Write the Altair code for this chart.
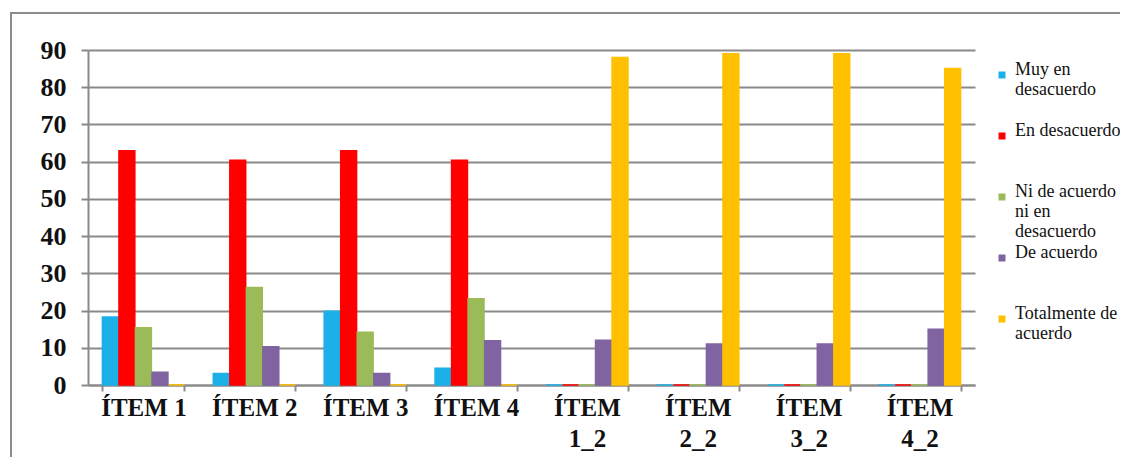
import altair as alt
import pandas as pd

items = ["ÍTEM 1", "ÍTEM 2", "ÍTEM 3", "ÍTEM 4", "ÍTEM 1_2", "ÍTEM 2_2", "ÍTEM 3_2", "ÍTEM 4_2"]
series = ["Muy en desacuerdo", "En desacuerdo", "Ni de acuerdo ni en desacuerdo", "De acuerdo", "Totalmente de acuerdo"]
colors = ["#1cb0e8", "#ff0000", "#9bbb59", "#8064a2", "#ffc000"]

muy_en_desacuerdo = [18.3, 3.1, 19.8, 4.5, 0, 0, 0, 0]
en_desacuerdo = [62.9, 60.4, 62.9, 60.4, 0, 0, 0, 0]
ni_ni = [15.4, 26.2, 14.2, 23.2, 0, 0, 0, 0]
de_acuerdo = [3.4, 10.3, 3.1, 11.9, 12, 11, 11, 15]
totalmente = [0, 0, 0, 0, 88, 89, 89, 85]

values = [muy_en_desacuerdo, en_desacuerdo, ni_ni, de_acuerdo, totalmente]
rows = []
for s, vals in zip(series, values):
    for it, v in zip(items, vals):
        rows.append({"item": it, "serie": s, "valor": v})
df = pd.DataFrame(rows)

legend_expr = (
    "datum.label == 'Muy en desacuerdo' ? ['Muy en', 'desacuerdo', ' '] : "
    "datum.label == 'En desacuerdo' ? ['En desacuerdo', ' ', ' '] : "
    "datum.label == 'Ni de acuerdo ni en desacuerdo' ? ['Ni de acuerdo', 'ni en', 'desacuerdo'] : "
    "datum.label == 'De acuerdo' ? ['De acuerdo', ' ', ' '] : "
    "['Totalmente de', 'acuerdo', ' ']"
)

color_scale = alt.Scale(domain=series, range=colors)
SERIF = "Liberation Serif"

bars = alt.Chart(df).mark_bar(strokeWidth=1.5).encode(
    x=alt.X("item:N", sort=items, title=None,
            scale=alt.Scale(paddingInner=0.26, paddingOuter=0.13),
            axis=alt.Axis(labelAngle=0, labelFont=SERIF, labelFontWeight="bold",
                          labelFontSize=25, labelColor="#111111", labelPadding=4,
                          labelLineHeight=31,
                          labelExpr="indexof(datum.label, '_') >= 0 ? split(datum.label, ' ') : datum.label",
                          tickBand="extent", ticks=True, tickSize=6, tickColor="#8a8a8a", tickWidth=2,
                          domainColor="#8a8a8a", domainWidth=2, grid=False)),
    xOffset=alt.XOffset("serie:N", sort=series, scale=alt.Scale(paddingInner=0.04)),
    y=alt.Y("valor:Q", title=None,
            scale=alt.Scale(domain=[0, 90], nice=False),
            axis=alt.Axis(values=[0, 10, 20, 30, 40, 50, 60, 70, 80, 90],
                          labelFont=SERIF, labelFontWeight="bold",
                          labelFontSize=26, labelColor="#111111", labelPadding=15,
                          tickSize=7, tickColor="#8a8a8a", tickWidth=2,
                          domainColor="#8a8a8a", domainWidth=2,
                          gridColor="#8a8a8a", gridWidth=2)),
    color=alt.Color("serie:N", scale=color_scale, sort=series, title=None,
                    legend=alt.Legend(orient="none", legendX=905, legendY=16,
                                      symbolType="square", symbolSize=49, symbolStrokeWidth=0,
                                      labelFont=SERIF, labelFontSize=18,
                                      labelColor="#111111",
                                      labelBaseline="alphabetic", labelLimit=200,
                                      labelExpr=legend_expr, rowPadding=3,
                                      symbolOffset=0, labelOffset=4)),
    stroke=alt.Stroke("serie:N", scale=color_scale, sort=series, legend=None),
)

frame = alt.Chart(pd.DataFrame({"k": [0]})).mark_rect(
    filled=False, stroke="#8c8c8c", strokeWidth=2
).encode(x=alt.value(-77), x2=alt.value(1100), y=alt.value(-37), y2=alt.value(460))

chart = alt.layer(frame, bars).properties(
    width=887, height=335,
    padding={"left": 80, "top": 42, "right": 145, "bottom": 72},
    autosize=alt.AutoSizeParams(type="none"),
).configure(background="white").configure_view(stroke=None).configure_legend(
    labelFont=SERIF, labelFontSize=18
)

chart.save("out.html", embed_options={"renderer": "svg", "actions": False})
